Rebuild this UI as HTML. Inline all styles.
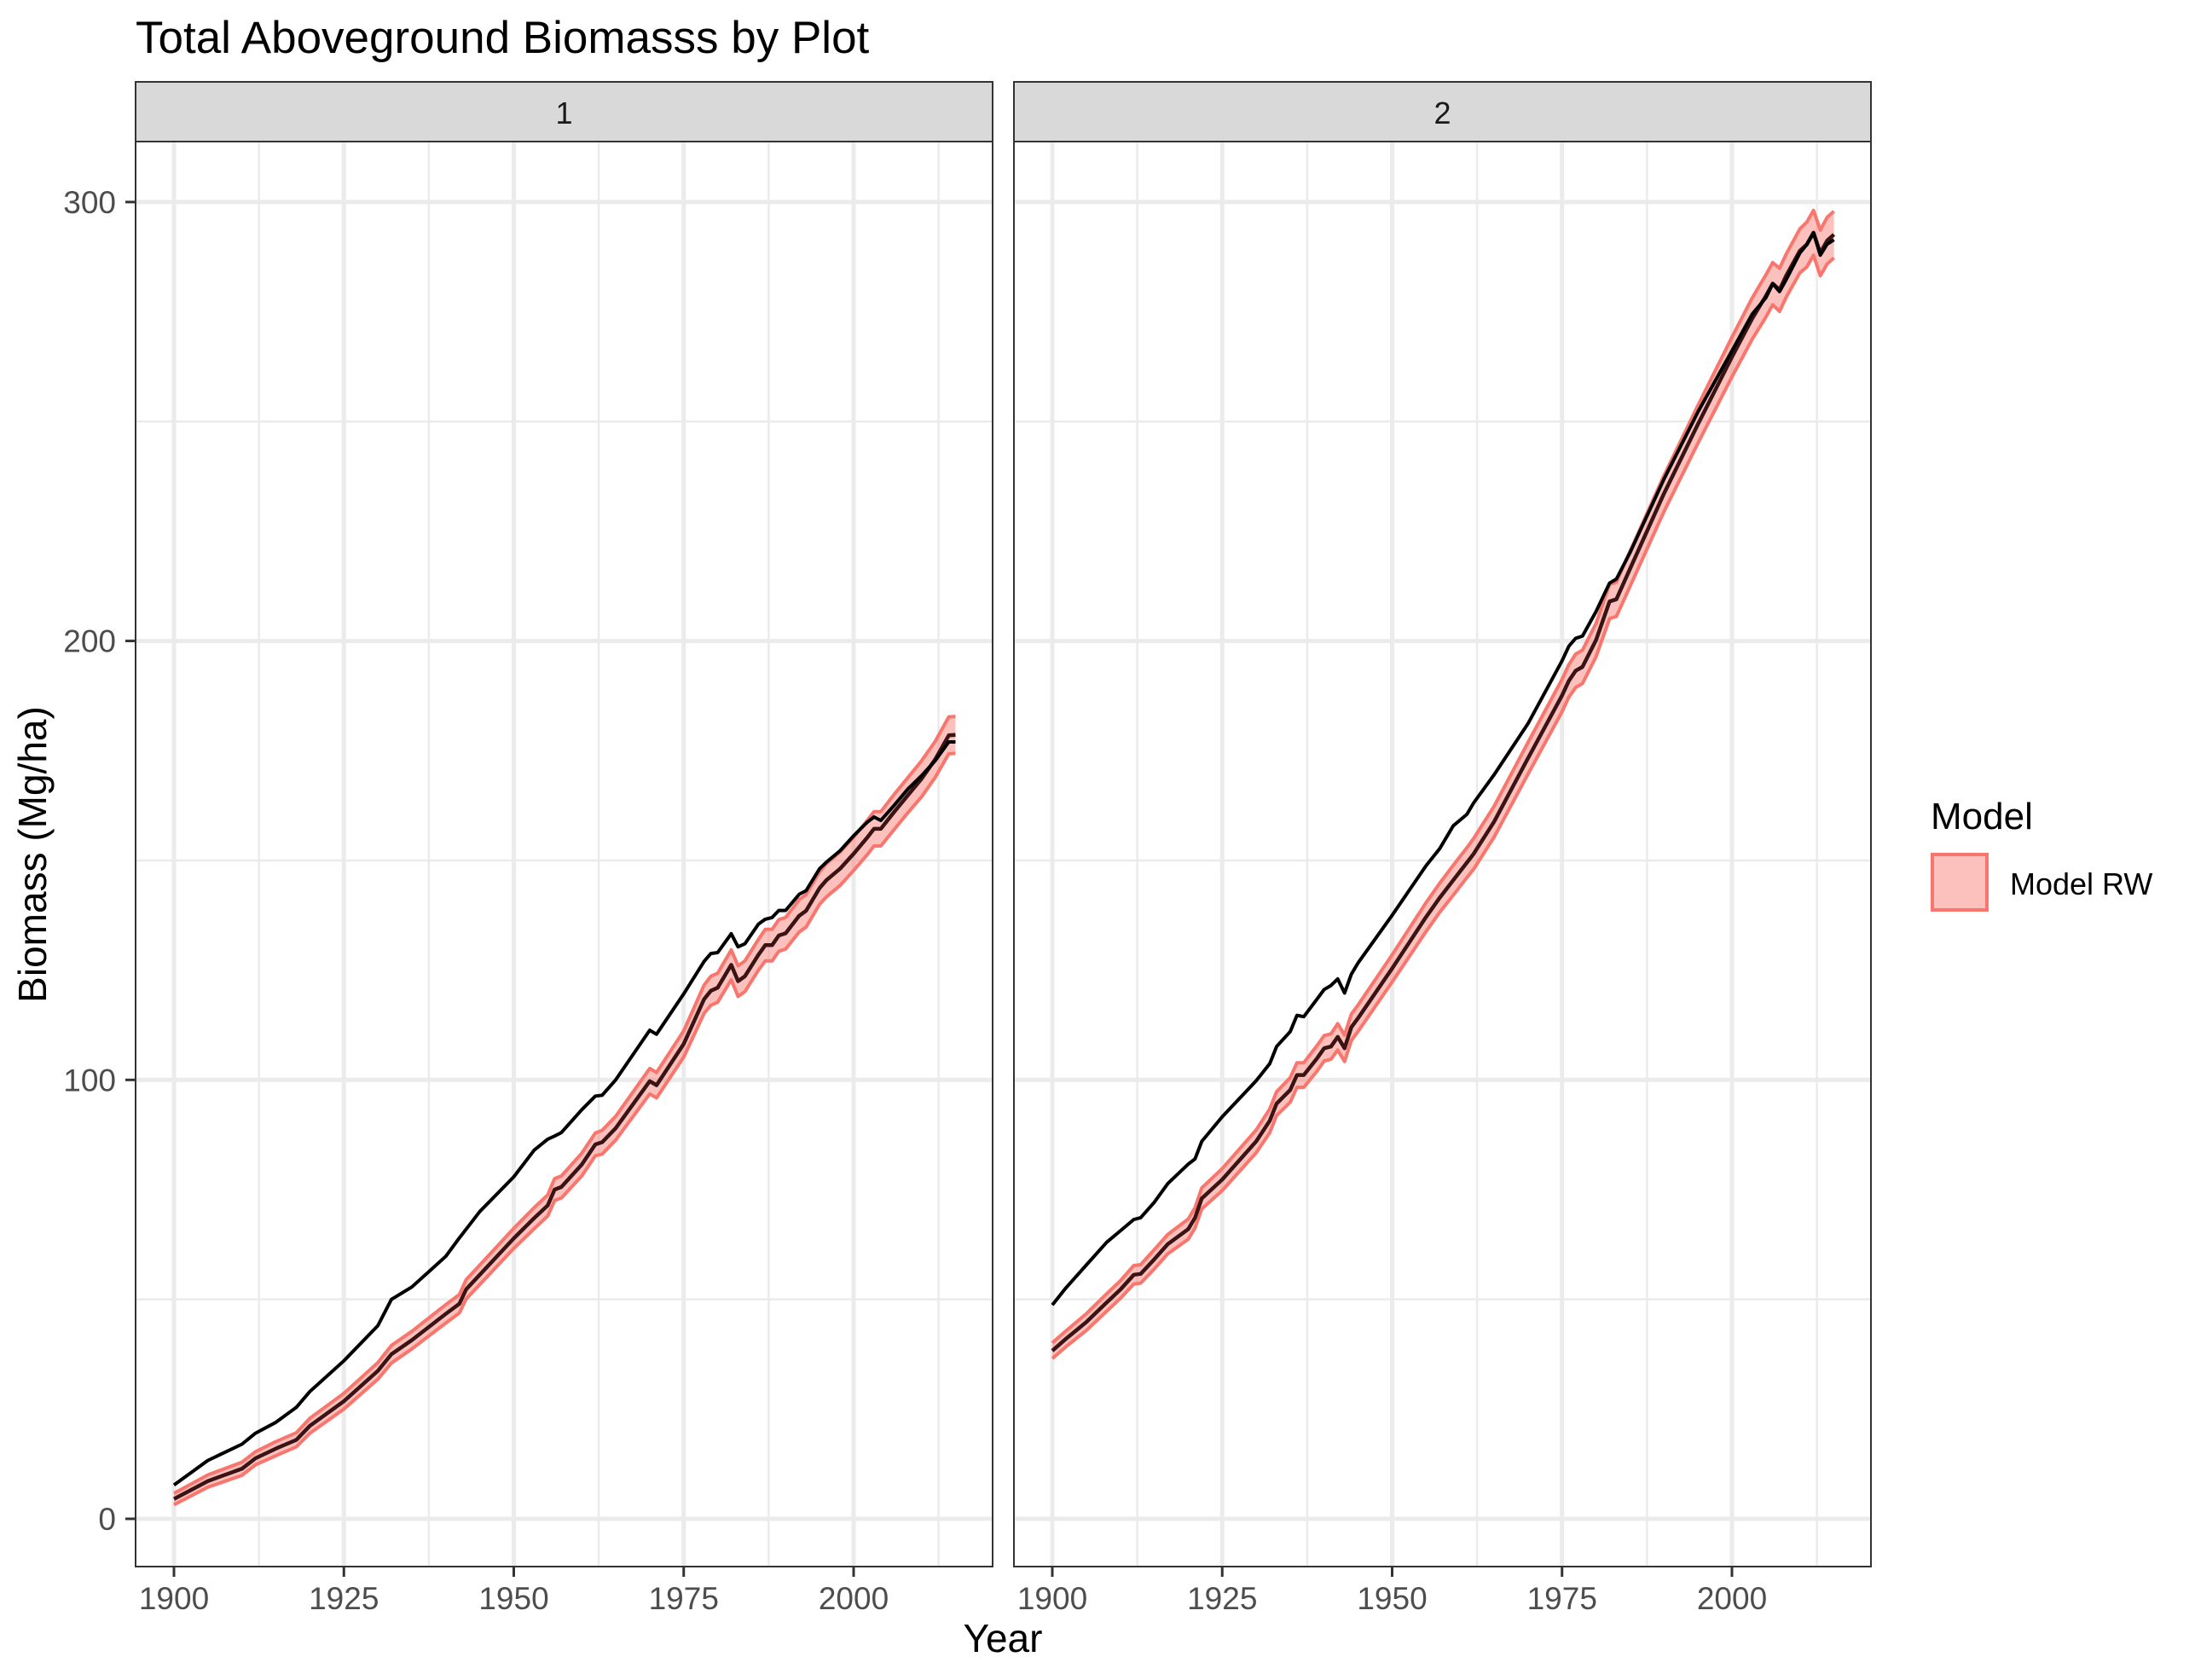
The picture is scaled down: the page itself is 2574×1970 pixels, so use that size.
<!DOCTYPE html>
<html><head><meta charset="utf-8"><style>
html,body{margin:0;padding:0;background:#fff;}
svg{display:block;font-family:"Liberation Sans",Arial,sans-serif;}
</style></head><body>
<svg id="chart" width="2574" height="1970" viewBox="0 0 2574 1970" xmlns="http://www.w3.org/2000/svg">
<rect width="2574" height="1970" fill="#fff"/>
<text x="159" y="62" font-size="53" fill="#000">Total Aboveground Biomasss by Plot</text>
<g id="panels"></g>
<text x="1176" y="1937" font-size="46" text-anchor="middle" fill="#000">Year</text>
<text transform="translate(54,1002) rotate(-90)" font-size="46" text-anchor="middle" fill="#000">Biomass (Mg/ha)</text>
<g>
<text x="2264" y="972" font-size="44" fill="#000">Model</text>
<rect x="2266" y="1002" width="64" height="65" fill="rgba(248,118,109,0.45)" stroke="#F8766D" stroke-width="4"/>
<text x="2357" y="1049" font-size="36" fill="#000">Model RW</text>
</g>
</svg>
<script>
const xTicks = [1900, 1925, 1950, 1975, 2000];
const xMinor = [1912.5, 1937.5, 1962.5, 1987.5, 2012.5];
const yTicks = [0, 100, 200, 300];
const yMinor = [50, 150, 250];
const panelLabels = ["1", "2"];

const p1Years = [1900,1905,1910,1912,1915,1918,1920,1925,1930,1932,1935,1940,1942,1943,1945,1950,1953,1955,1956,1957,1960,1962,1963,1965,1970,1971,1975,1978,1979,1980,1982,1983,1984,1986,1987,1988,1989,1990,1992,1993,1995,1996,1998,2000,2002,2003,2004,2006,2008,2010,2012,2014,2015];
const p1Other = [7.7,13.3,17,19.5,22,25.4,29,36,44,50,52.8,59.8,64,66,70,77.9,84,86.5,87.2,88,93.2,96.3,96.5,100,111.3,110.4,119.6,127,128.8,129,133.3,130.3,131,135.5,136.6,137,138.6,138.6,142.3,143.1,148.1,149.6,152.2,155.6,158.7,159.9,159.1,162.6,166.3,169.3,172.7,177,177];
const p1RW = [4.5,8.6,11.4,13.8,16,18,21.2,26.8,33.7,37.5,40.7,46.7,49,52.3,55.6,63.9,68.5,71.4,75,75.6,80.7,85.3,85.8,89,99.7,98.8,108.2,118.4,120.3,121,126.2,122.5,123.6,128.5,130.7,130.7,132.9,133.4,137.4,138.5,143.7,145.5,148.1,151.5,155.2,157.2,157.2,161.1,164.9,168.6,173,178.5,178.6];
const p1Spread = [1.3,1.4,1.5,1.5,1.6,1.6,1.7,1.8,1.9,2,2,2.1,2.1,2.2,2.2,2.3,2.4,2.4,2.5,2.5,2.6,2.6,2.7,2.7,2.9,2.9,3,3.2,3.3,3.3,3.4,3.5,3.5,3.5,3.6,3.6,3.6,3.6,3.7,3.7,3.7,3.8,3.8,3.8,3.9,3.9,3.9,4,4,4.1,4.1,4.2,4.2];

const p2Years = [1900,1902,1905,1908,1910,1912,1913,1915,1917,1920,1921,1922,1925,1930,1932,1933,1935,1936,1937,1939,1940,1941,1942,1943,1944,1945,1950,1955,1957,1959,1960,1961,1962,1965,1970,1975,1976,1977,1978,1980,1982,1983,1985,1990,1995,2000,2003,2005,2006,2007,2008,2010,2011,2012,2013,2014,2015];
const p2Other = [48.7,52.6,57.8,63,65.6,68.2,68.6,72.1,76.4,80.8,82,86,91.6,99.8,103.7,107.6,111,114.7,114.4,118.5,120.6,121.5,123,119.8,124.1,126.7,137.5,148.8,152.7,157.9,159.2,160.5,163.1,169.5,181.2,195.5,198.8,200.6,201.1,206.7,213.2,214.1,220.1,236.9,252.2,266.1,274.5,278.2,281.4,279.6,282.4,288.4,290.3,293,287.9,290.4,291.4];
const p2RW = [38.3,41,44.8,49.3,52.2,55.6,55.8,59.1,62.6,66,68.6,73,77.3,86,90.7,94.6,97.7,101.1,101.1,105,107.2,107.6,109.8,107.2,112,114.1,125.4,137.1,141.5,145.5,147.5,149.5,151.5,158.8,173.3,187.6,190.9,193.2,194.1,200.2,209,209.5,216.4,233.6,249.4,264.7,273.5,278.6,281.4,280,283.3,288.9,290.3,293,288.4,291.2,292.6];
const p2Spread = [1.8,1.8,1.9,2,2,2.1,2.1,2.2,2.2,2.3,2.3,2.4,2.5,2.6,2.7,2.7,2.8,2.8,2.8,2.9,2.9,2.9,3,3,3,3,3.1,3.3,3.3,3.4,3.4,3.4,3.5,3.5,3.6,3.7,3.7,3.8,3.8,3.8,3.9,3.9,4,4.1,4.3,4.5,4.7,4.8,4.8,4.9,4.9,5,5.1,5.1,5.2,5.3,5.3];

const NS = "http://www.w3.org/2000/svg";
const panelTop = 166, panelBottom = 1837, stripTop = 96;
const panelLefts = [159, 1189], panelWidth = 1005;
function yScale(v){ return 1781 - v * 5.147; }
function xScale(panelIdx, yr){ return panelLefts[panelIdx] + 45 + (yr - 1900) * 7.97; }
function mk(tag, attrs, parent){ const e=document.createElementNS(NS,tag); for(const k in attrs) e.setAttribute(k, attrs[k]); parent.appendChild(e); return e; }

const root = document.getElementById("panels");
const datasets = [
  {years:p1Years, other:p1Other, rw:p1RW, spread:p1Spread},
  {years:p2Years, other:p2Other, rw:p2RW, spread:p2Spread}
];

for (let p = 0; p < 2; p++) {
  const L = panelLefts[p], R = L + panelWidth;
  const g = mk("g", {}, root);
  
  
  const bg = mk("rect", {x:L, y:panelTop, width:panelWidth, height:panelBottom-panelTop, fill:"#fff"}, g);
  
  
  yMinor.forEach(v => { const l = mk("line", {x1:L, x2:R, y1:yScale(v), y2:yScale(v), stroke:"#EBEBEB", "stroke-width":2.5}, g);
      });
  xMinor.forEach(v => { const l = mk("line", {x1:xScale(p,v), x2:xScale(p,v), y1:panelTop, y2:panelBottom, stroke:"#EBEBEB", "stroke-width":2.5}, g);
      });
  yTicks.forEach(v => { const l = mk("line", {x1:L, x2:R, y1:yScale(v), y2:yScale(v), stroke:"#EBEBEB", "stroke-width":5}, g);
      });
  xTicks.forEach(v => { const l = mk("line", {x1:xScale(p,v), x2:xScale(p,v), y1:panelTop, y2:panelBottom, stroke:"#EBEBEB", "stroke-width":5}, g);
      });

  const d = datasets[p];
  let up = "", lo = "";
  d.years.forEach((yr,i) => { up += (i?"L":"M") + xScale(p,yr).toFixed(1) + "," + yScale(d.rw[i]+d.spread[i]).toFixed(1); });
  for (let i = d.years.length-1; i >= 0; i--) lo += "L" + xScale(p,d.years[i]).toFixed(1) + "," + yScale(d.rw[i]-d.spread[i]).toFixed(1);
  const rib = mk("path", {d: up + lo + "Z", fill:"rgba(248,118,109,0.45)", stroke:"none"}, g);
  
  
  let upL = "", loL = "";
  d.years.forEach((yr,i) => { upL += (i?"L":"M") + xScale(p,yr).toFixed(1) + "," + yScale(d.rw[i]+d.spread[i]).toFixed(1);
                              loL += (i?"L":"M") + xScale(p,yr).toFixed(1) + "," + yScale(d.rw[i]-d.spread[i]).toFixed(1); });
  const ub = mk("path", {d:upL, fill:"none", stroke:"#F8766D", "stroke-width":4, "stroke-linejoin":"round"}, g);
  
  
  const lb = mk("path", {d:loL, fill:"none", stroke:"#F8766D", "stroke-width":4, "stroke-linejoin":"round"}, g);
  
  
  let cl = "";
  d.years.forEach((yr,i) => { cl += (i?"L":"M") + xScale(p,yr).toFixed(1) + "," + yScale(d.rw[i]).toFixed(1); });
  const c = mk("path", {d:cl, fill:"none", stroke:"#3a1414", "stroke-width":4.5, "stroke-linejoin":"round"}, g);
  
  
  let ol = "";
  d.years.forEach((yr,i) => { ol += (i?"L":"M") + xScale(p,yr).toFixed(1) + "," + yScale(d.other[i]).toFixed(1); });
  const o = mk("path", {d:ol, fill:"none", stroke:"#000", "stroke-width":4, "stroke-linejoin":"round"}, g);
  
  

  const border = mk("rect", {x:L, y:panelTop, width:panelWidth, height:panelBottom-panelTop, fill:"none", stroke:"#333", "stroke-width":2}, g);
  
  
  const strip = mk("rect", {x:L, y:stripTop, width:panelWidth, height:panelTop-stripTop, fill:"#D9D9D9", stroke:"#333", "stroke-width":2}, g);
  
  
  const st = mk("text", {x:L+panelWidth/2, y:145, "font-size":36, "text-anchor":"middle", fill:"#1A1A1A"}, g);
  st.textContent = panelLabels[p];
  
  

  xTicks.forEach(v => {
    const t = mk("line", {x1:xScale(p,v), x2:xScale(p,v), y1:panelBottom, y2:panelBottom+12, stroke:"#333", "stroke-width":3}, g);
    
    
    const tx = mk("text", {x:xScale(p,v), y:1887, "font-size":37, "text-anchor":"middle", fill:"#4D4D4D"}, g);
    tx.textContent = v;
    
    
  });
}
const ay = mk("g", {}, root);


yTicks.forEach(v => {
  const t = mk("line", {x1:147, x2:159, y1:yScale(v), y2:yScale(v), stroke:"#333", "stroke-width":3}, ay);
  
  
  const tx = mk("text", {x:136, y:yScale(v)+13, "font-size":37, "text-anchor":"end", fill:"#4D4D4D"}, ay);
  tx.textContent = v;
  
  
});
</script>
</body></html>
